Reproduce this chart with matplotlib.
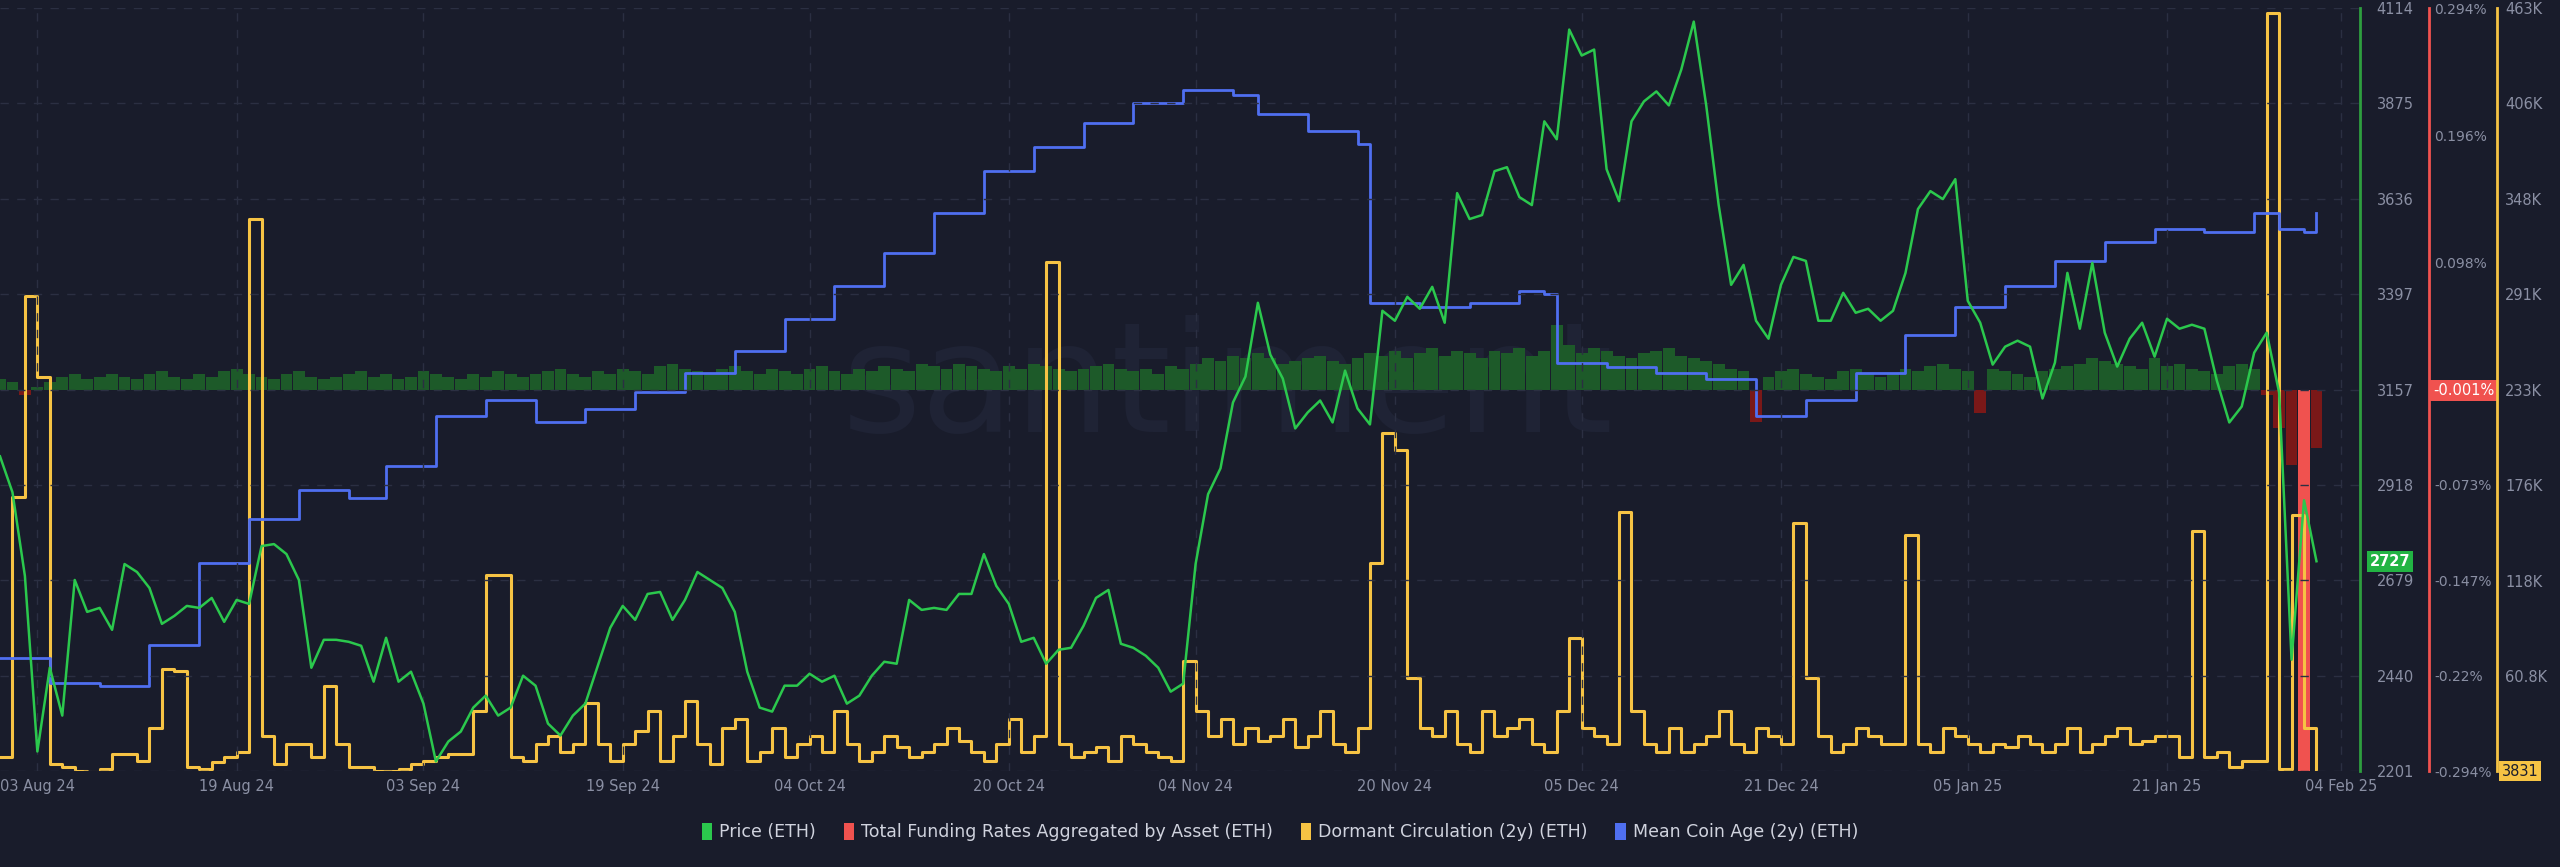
import numpy as np
import pandas as pd
import matplotlib
matplotlib.use("Agg")
import matplotlib.pyplot as plt
import matplotlib.dates as mdates

# daily values, first day 31 Jul 24
price = [2990, 2900, 2690, 2250, 2460, 2340, 2680, 2600, 2610, 2555, 2720, 2700, 2660, 2570, 2590, 2615, 2610, 2635, 2575, 2630, 2620, 2765, 2770, 2745, 2680, 2460, 2530, 2530, 2525, 2515,
         2425, 2535, 2425, 2450, 2370, 2225, 2275, 2300, 2360, 2390, 2340, 2360, 2440, 2415, 2320, 2290, 2340, 2370, 2465, 2560, 2615, 2580, 2645, 2650, 2580, 2630, 2700, 2680, 2660, 2600,
         2450, 2360, 2350, 2415, 2415, 2445, 2425, 2440, 2370, 2390, 2440, 2475, 2470, 2630, 2605, 2610, 2605, 2645, 2645, 2745, 2665, 2620, 2525, 2535, 2470, 2505, 2510, 2565, 2635, 2655, 2520,
         2510, 2490, 2460, 2400, 2420, 2720, 2895, 2960, 3125, 3190, 3375, 3245, 3185, 3060, 3100, 3130, 3075, 3205, 3110, 3070, 3355, 3330, 3390, 3360, 3415, 3325, 3650, 3585, 3595, 3705,
         3715, 3640, 3620, 3830, 3785, 4060, 3995, 4010, 3710, 3630, 3830, 3880, 3905, 3870, 3960, 4080, 3870, 3620, 3420, 3470, 3330, 3285, 3420, 3490, 3480, 3330, 3330, 3400, 3350, 3360, 3330,
         3355, 3450, 3610, 3655, 3635, 3685, 3380, 3325, 3220, 3265, 3280, 3265, 3135, 3225, 3450, 3310, 3475, 3300, 3215, 3285, 3325, 3240, 3335, 3310, 3320, 3310, 3180, 3075, 3115, 3250, 3300,
         3150, 2480, 2880, 2727]

dormant = [12, 169, 290, 241, 8, 6, 4, 3, 5, 14, 14, 10, 30, 65, 64, 6, 5, 9, 12, 15, 336, 25, 8, 20, 20, 12, 55, 20, 6, 6,
           4, 4, 5, 8, 10, 12, 14, 14, 40, 122, 122, 12, 10, 20, 25, 15, 20, 45, 20, 10, 20, 28, 40, 10, 25, 46, 20, 8, 30, 35,
           10, 15, 30, 12, 20, 25, 15, 40, 20, 10, 15, 25, 18, 12, 15, 20, 30, 22, 15, 10, 20, 35, 15, 25, 310, 20, 12, 15, 18, 10, 25,
           20, 15, 12, 10, 70, 40, 25, 35, 20, 30, 22, 25, 35, 18, 25, 40, 20, 15, 30, 129, 207, 197, 60, 30, 25, 40, 20, 15, 40, 25,
           30, 35, 20, 15, 40, 84, 30, 25, 20, 160, 40, 20, 15, 30, 15, 20, 25, 40, 20, 15, 30, 25, 20, 153, 60, 25, 15, 20, 30, 25, 20,
           20, 146, 20, 15, 30, 25, 20, 15, 20, 18, 25, 20, 15, 20, 30, 15, 20, 25, 30, 20, 22, 25, 25, 12, 148, 12, 15, 6, 10, 10, 460,
           5, 158, 30, 3.831]

funding = [.008, .006, -.004, .002, .006, .010, .012, .008, .010, .012, .010, .008, .012, .014, .010, .008, .012, .010, .014, .016, .012, .010, .008, .012, .014, .010, .008, .010, .012, .014,
           .010, .012, .008, .010, .014, .012, .010, .008, .012, .010, .014, .012, .010, .012, .014, .016, .012, .010, .014, .012, .016, .014, .012, .018, .020, .016, .014, .012, .016, .018,
           .014, .012, .016, .014, .012, .016, .018, .014, .012, .016, .014, .018, .016, .014, .020, .018, .016, .020, .018, .016, .014, .018, .016, .020, .018, .016, .014, .016, .018, .020, .016,
           .014, .016, .012, .018, .016, .020, .024, .022, .026, .024, .028, .024, .020, .022, .024, .026, .022, .020, .024, .028, .026, .030, .024, .028, .032, .026, .030, .028, .024, .030,
           .028, .032, .026, .030, .050, .034, .028, .032, .030, .026, .024, .028, .030, .032, .026, .024, .022, .020, .016, .014, -.025, .010, .014, .016, .012, .010, .008, .014, .016, .012, .010,
           .012, .016, .014, .018, .020, .016, .014, -.018, .016, .014, .012, .010, .014, .016, .018, .020, .024, .022, .020, .018, .016, .024, .018, .020, .016, .014, .012, .018, .020, .016, -.004,
           -.030, -.058, -.35, -.045]

coin_age_dates = ["2024-07-31", "2024-08-04", "2024-08-08", "2024-08-12", "2024-08-16", "2024-08-20", "2024-08-24", "2024-08-28",
                  "2024-08-31", "2024-09-04", "2024-09-08", "2024-09-12", "2024-09-16", "2024-09-20", "2024-09-24", "2024-09-28",
                  "2024-10-02", "2024-10-06", "2024-10-10", "2024-10-14", "2024-10-18", "2024-10-22", "2024-10-26", "2024-10-30",
                  "2024-11-03", "2024-11-07", "2024-11-09", "2024-11-13", "2024-11-17", "2024-11-18", "2024-11-22", "2024-11-26",
                  "2024-11-30", "2024-12-02", "2024-12-03", "2024-12-07", "2024-12-11", "2024-12-15", "2024-12-19", "2024-12-23",
                  "2024-12-27", "2024-12-31", "2025-01-04", "2025-01-08", "2025-01-12", "2025-01-16", "2025-01-20", "2025-01-24",
                  "2025-01-28", "2025-01-30", "2025-02-01", "2025-02-02"]
coin_age = [214.8, 211.6, 211.1, 216.5, 227.2, 233.0, 236.8, 235.8, 240.0, 246.5, 248.6, 245.8, 247.5, 249.7, 252.2, 255.0,
            259.3, 263.6, 267.9, 273.2, 278.6, 281.8, 285.0, 287.6, 289.3, 288.6, 286.1, 283.9, 282.2, 261.4, 260.8, 261.4,
            262.9, 262.5, 253.5, 252.9, 252.2, 251.4, 246.5, 248.6, 252.2, 257.2, 260.8, 263.6, 266.8, 269.4, 271.1, 270.6,
            273.2, 271.1, 270.6, 273.2]

price_ticks = [2201, 2440, 2679, 2918, 3157, 3397, 3636, 3875, 4114]
funding_ticks = [0.294, 0.196, 0.098, -0.073, -0.147, -0.22, -0.294]
funding_labels = ["0.294%", "0.196%", "0.098%", "-0.073%", "-0.147%", "-0.22%", "-0.294%"]
dormant_ticks = [60.8, 118, 176, 233, 291, 348, 406, 463]
dormant_labels = ["60.8K", "118K", "176K", "233K", "291K", "348K", "406K", "463K"]
date_ticks = ["2024-08-03", "2024-08-19", "2024-09-03", "2024-09-19", "2024-10-04", "2024-10-20", "2024-11-04",
              "2024-11-20", "2024-12-05", "2024-12-21", "2025-01-05", "2025-01-21", "2025-02-04"]

BG = "#191c2b"
GRID = "#2b2f42"
TXT = "#8a8fa3"
GREEN = "#2bc84d"
RED = "#f0524f"
YELLOW = "#f6c344"
BLUE = "#4f6ff0"

days = pd.date_range("2024-07-31", periods=len(price), freq="D")
age_days = pd.to_datetime(coin_age_dates)

fig = plt.figure(figsize=(25.6, 8.67), dpi=100, facecolor=BG)
ax = fig.add_axes([0.0, 0.1107, 0.9219, 0.88])
ax.set_facecolor(BG)

ax_f = ax.twinx()
ax_d = ax.twinx()
ax_a = ax.twinx()
for a in (ax_f, ax_d, ax_a):
    a.set_facecolor("none")

ax.set_zorder(3); ax.patch.set_visible(False)

# watermark
ax_f.text(0.52, 0.50, "santiment", transform=ax.transAxes, fontsize=110, color="#1f2335",
          ha="center", va="center", zorder=0)

# funding bars
fcol = ["#1d5a29" if v >= 0 else ("#7a1818" if v > -0.1 else RED) for v in funding]
ax_f.bar(days, funding, width=0.95, color=fcol, zorder=1)
ax_f.set_ylim(-0.294, 0.294)

# dormant circulation
ax_d.step(days, dormant, where="post", color=YELLOW, lw=2.2, zorder=2)
ax_d.set_ylim(3.831, 463)

# mean coin age (no axis)
ax_a.step(age_days, coin_age, where="post", color=BLUE, lw=2.0)
ax_a.set_ylim(200, 300)
ax_a.set_yticks([])
for s in ax_a.spines.values():
    s.set_visible(False)

# price
ax.plot(days, price, color=GREEN, lw=1.8, zorder=4)
ax.set_ylim(2201, 4114)
ax.set_xlim(pd.Timestamp("2024-07-31"), pd.Timestamp("2025-02-05 12:00"))

ax.set_yticks(price_ticks)
ax.yaxis.tick_right()
ax.tick_params(axis="y", length=0, colors=TXT, labelsize=10.5, pad=12)
ax.set_xticks(pd.to_datetime(date_ticks))
ax.xaxis.set_major_formatter(mdates.DateFormatter("%d %b %y"))
ax.tick_params(axis="x", length=0, colors=TXT, labelsize=10.5, pad=6)
ax.grid(True, color=GRID, ls=(0, (6, 6)), lw=1)

for s in ax.spines.values():
    s.set_visible(False)
ax.spines["right"].set_visible(True)
ax.spines["right"].set_color("#2e9e3f")
ax.spines["right"].set_linewidth(2)

ax_f.set_yticks(funding_ticks)
ax_f.set_yticklabels(funding_labels)
ax_f.spines["right"].set_position(("axes", 1.029))
ax_f.tick_params(axis="y", length=0, colors=TXT, labelsize=10, pad=4)
for s in ax_f.spines.values():
    s.set_visible(False)
ax_f.spines["right"].set_visible(True)
ax_f.spines["right"].set_color(RED)
ax_f.spines["right"].set_linewidth(2)

ax_d.set_yticks(dormant_ticks)
ax_d.set_yticklabels(dormant_labels)
ax_d.spines["right"].set_position(("axes", 1.058))
ax_d.tick_params(axis="y", length=0, colors=TXT, labelsize=10.5, pad=6)
for s in ax_d.spines.values():
    s.set_visible(False)
ax_d.spines["right"].set_visible(True)
ax_d.spines["right"].set_color(YELLOW)
ax_d.spines["right"].set_linewidth(2)

# current value boxes
ax.text(1.004, price[-1], str(price[-1]), transform=ax.get_yaxis_transform(), fontsize=10.5,
        color="white", fontweight="bold", va="center", ha="left",
        bbox=dict(boxstyle="square,pad=0.2", fc="#22b443", ec="none"), zorder=10, clip_on=False)
ax_f.text(1.031, -0.001, "-0.001%", transform=ax_f.get_yaxis_transform(), fontsize=10.5,
          color="white", va="center", ha="left",
          bbox=dict(boxstyle="square,pad=0.2", fc=RED, ec="none"), zorder=10, clip_on=False)
ax_d.text(1.060, 3.831, "3831", transform=ax_d.get_yaxis_transform(), fontsize=10.5,
          color="#1b1e2e", va="center", ha="left",
          bbox=dict(boxstyle="square,pad=0.2", fc=YELLOW, ec="none"), zorder=10, clip_on=False)

# legend
names = ["Price (ETH)", "Total Funding Rates Aggregated by Asset (ETH)", "Dormant Circulation (2y) (ETH)", "Mean Coin Age (2y) (ETH)"]
cols = [GREEN, RED, YELLOW, BLUE]
handles = [plt.Rectangle((0, 0), 1, 1, fc=c) for c in cols]
fig.legend(handles, names, loc="center", bbox_to_anchor=(0.5, 0.04), ncol=4, frameon=False,
           fontsize=12.5, labelcolor="#d0d3de", handlelength=0.6, handleheight=1.1,
           handletextpad=0.4, columnspacing=1.6)

fig.savefig("out.png", dpi=100, facecolor=BG)
